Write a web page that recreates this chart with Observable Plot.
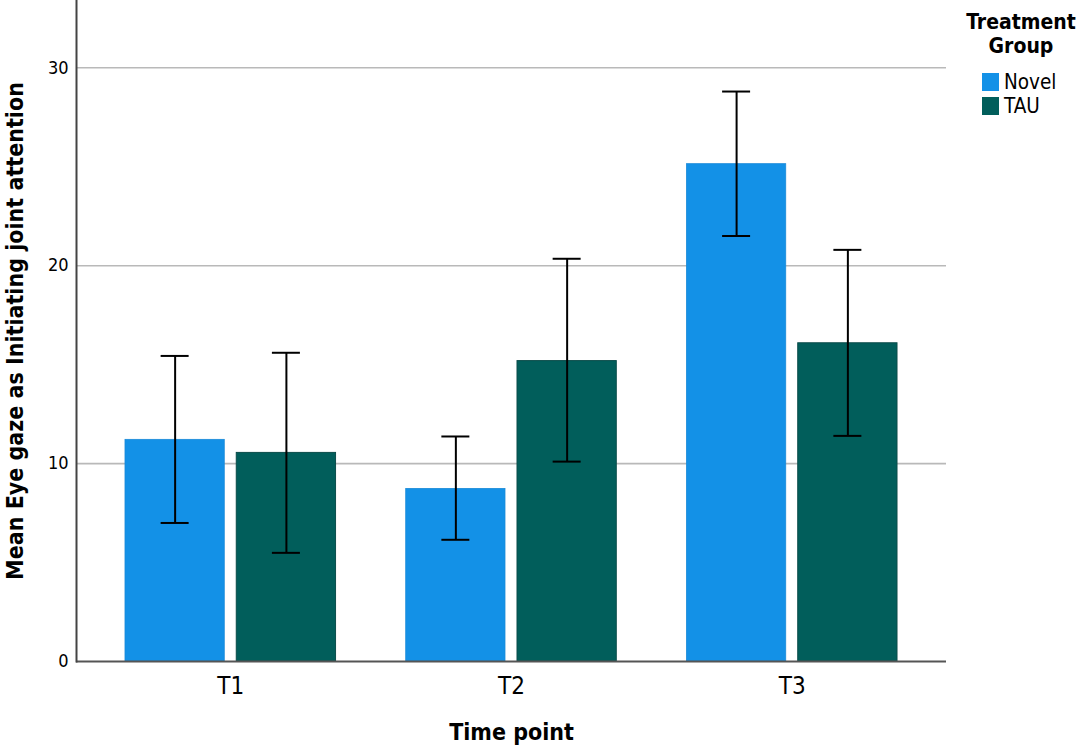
<!DOCTYPE html>
<html>
<head>
<meta charset="utf-8">
<script src="https://cdn.jsdelivr.net/npm/d3@7"></script>
<script src="https://cdn.jsdelivr.net/npm/@observablehq/plot@0.6"></script>
<style>
  body { margin: 0; background: #fff; }
  #wrap { position: relative; width: 1084px; height: 748px; overflow: hidden; }
  #wrap svg { position: absolute; left: 0; top: 0; }
  .lg { position: absolute; font-family: "DejaVu Sans Condensed", "DejaVu Sans", sans-serif; color: #000; }
  .lg-title { left: 952px; top: 10px; width: 138px; text-align: center; font-weight: bold; font-size: 21px; line-height: 24px; }
  .lg-sw { position: absolute; width: 17px; height: 18px; }
  .lg-lab { position: absolute; font-size: 20.5px; line-height: 24px; white-space: nowrap; }
</style>
</head>
<body>
<div id="wrap"></div>
<script>
// ---- data ----
const times = ["T1", "T2", "T3"];
const groups = ["Novel", "TAU"];
const groupColors = ["#1391e7", "#015e5b"];
const novelMean = [11.2, 8.72, 25.13];
const novelLow  = [7.0, 6.15, 21.5];
const novelHigh = [15.44, 11.37, 28.8];
const tauMean = [10.54, 15.18, 16.08];
const tauLow  = [5.49, 10.1, 11.4];
const tauHigh = [15.6, 20.35, 20.8];
const yTicks = [0, 10, 20, 30];
const yMax = 33.4;
const xTitle = "Time point";
const yTitle = "Mean Eye gaze as Initiating joint attention";
const legendTitle = ["Treatment", "Group"];

const novel = times.map((t, i) => ({time: t, group: groups[0], mean: novelMean[i], lo: novelLow[i], hi: novelHigh[i]}));
const tau = times.map((t, i) => ({time: t, group: groups[1], mean: tauMean[i], lo: tauLow[i], hi: tauHigh[i]}));

// ---- layout ----
const W = 1084, H = 748;
const mL = 76, mR = 138, mT = 0, mB = 87;
const pIn = 0.25, pOut = 0.1745;
const step = (W - mL - mR) / (times.length - pIn + 2 * pOut);
const bw = step * (1 - pIn);           // width of one time-point band
const gap = 12;
const barW = (bw - gap) / 2;
const off = barW / 2 + gap / 2;        // offset of each bar centre from band centre
const capW = 28;
const font = '"DejaVu Sans Condensed", "DejaVu Sans", sans-serif';

const errMarks = (rows, sign, leftInset) => [
  Plot.ruleX(rows, {x: "time", y1: "lo", y2: "hi", dx: sign * off, stroke: "#000", strokeWidth: 2}),
  Plot.tickY(rows, {x: "time", y: "hi", insetLeft: leftInset, insetRight: bw - leftInset - capW, stroke: "#000", strokeWidth: 2}),
  Plot.tickY(rows, {x: "time", y: "lo", insetLeft: leftInset, insetRight: bw - leftInset - capW, stroke: "#000", strokeWidth: 2})
];

const chart = Plot.plot({
  width: W,
  height: H,
  marginLeft: mL,
  marginRight: mR,
  marginTop: mT,
  marginBottom: mB,
  style: {fontFamily: font, background: "transparent", overflow: "visible"},
  x: {type: "band", domain: times, paddingInner: pIn, paddingOuter: pOut, align: 0.5, round: false, label: null},
  y: {domain: [0, yMax], label: null},
  color: {domain: groups, range: groupColors},
  marks: [
    Plot.ruleY(yTicks.filter(v => v > 0), {stroke: "#b9b9b9", strokeWidth: 1.6}),
    Plot.barY(novel, {x: "time", y: "mean", fill: "group", insetLeft: 0, insetRight: bw - barW, stroke: "#1a8ad8", strokeWidth: 0.8}),
    Plot.barY(tau, {x: "time", y: "mean", fill: "group", insetLeft: bw - barW, insetRight: 0, stroke: "#0b4c4a", strokeWidth: 1}),
    ...errMarks(novel, -1, barW / 2 - capW / 2),
    ...errMarks(tau, 1, bw - barW / 2 - capW / 2),
    Plot.ruleY([0], {stroke: "#555", strokeWidth: 2}),
    Plot.frame({anchor: "left", stroke: "#444", strokeWidth: 2}),
    Plot.axisY(yTicks, {tickSize: 0, tickPadding: 8, fontSize: 18, label: null, fill: "#000"}),
    Plot.axisX({tickSize: 0, tickPadding: 15, fontSize: 24, label: null, fill: "#000"}),
    Plot.text([xTitle], {text: d => d, frameAnchor: "bottom", textAnchor: "middle", lineAnchor: "middle", dy: 71.6, fontSize: 23, fontWeight: "bold", fill: "#000"}),
    Plot.text([yTitle], {text: d => d, frameAnchor: "left", textAnchor: "middle", lineAnchor: "middle", rotate: -90, dx: -61, fontSize: 23, fontWeight: "bold", fill: "#000"})
  ]
});

const wrap = document.getElementById("wrap");
wrap.appendChild(chart);

// ---- legend ----
const t = document.createElement("div");
t.className = "lg lg-title";
t.innerHTML = legendTitle.join("<br>");
wrap.appendChild(t);
groups.forEach((g, i) => {
  const sw = document.createElement("div");
  sw.className = "lg lg-sw";
  sw.style.left = "982px";
  sw.style.top = (73 + i * 24) + "px";
  sw.style.background = groupColors[i];
  wrap.appendChild(sw);
  const lab = document.createElement("div");
  lab.className = "lg lg-lab";
  lab.style.left = "1004px";
  lab.style.top = (70 + i * 24) + "px";
  lab.textContent = g;
  wrap.appendChild(lab);
});
</script>
</body>
</html>
